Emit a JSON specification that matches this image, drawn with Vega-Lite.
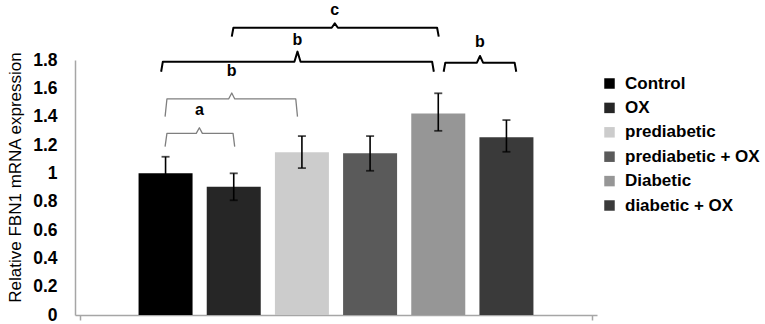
{
  "$schema": "https://vega.github.io/schema/vega-lite/v6.json",
  "autosize": {"type": "none"},
  "width": 522,
  "height": 255,
  "padding": {"left": 75, "top": 60, "right": 168, "bottom": 9},
  "background": "white",
  "config": {"view": {"stroke": null}, "font": "Liberation Sans"},
  "datasets": {
    "bars": [
      {"group": "Control", "pos": 1, "mean": 1.0, "lo": 0.885, "hi": 1.117},
      {"group": "OX", "pos": 2, "mean": 0.905, "lo": 0.81, "hi": 1.0},
      {"group": "prediabetic", "pos": 3, "mean": 1.148, "lo": 1.037, "hi": 1.263},
      {"group": "prediabetic + OX", "pos": 4, "mean": 1.141, "lo": 1.018, "hi": 1.263},
      {"group": "Diabetic", "pos": 5, "mean": 1.423, "lo": 1.30, "hi": 1.565},
      {"group": "diabetic + OX", "pos": 6, "mean": 1.254, "lo": 1.152, "hi": 1.376}
    ],
    "brackets": [
      {"id": "a", "tone": "gray", "ord": 1, "x": 0.993, "y": 1.188},
      {"id": "a", "tone": "gray", "ord": 2, "x": 1.02, "y": 1.282},
      {"id": "a", "tone": "gray", "ord": 3, "x": 1.45, "y": 1.282},
      {"id": "a", "tone": "gray", "ord": 4, "x": 1.496, "y": 1.322},
      {"id": "a", "tone": "gray", "ord": 5, "x": 1.54, "y": 1.282},
      {"id": "a", "tone": "gray", "ord": 6, "x": 1.99, "y": 1.282},
      {"id": "a", "tone": "gray", "ord": 7, "x": 2.014, "y": 1.188},
      {"id": "b1", "tone": "gray", "ord": 1, "x": 0.993, "y": 1.40},
      {"id": "b1", "tone": "gray", "ord": 2, "x": 1.02, "y": 1.525},
      {"id": "b1", "tone": "gray", "ord": 3, "x": 1.925, "y": 1.525},
      {"id": "b1", "tone": "gray", "ord": 4, "x": 1.971, "y": 1.567},
      {"id": "b1", "tone": "gray", "ord": 5, "x": 2.015, "y": 1.525},
      {"id": "b1", "tone": "gray", "ord": 6, "x": 2.91, "y": 1.525},
      {"id": "b1", "tone": "gray", "ord": 7, "x": 2.935, "y": 1.40},
      {"id": "b2", "tone": "black", "ord": 1, "x": 0.935, "y": 1.717},
      {"id": "b2", "tone": "black", "ord": 2, "x": 0.96, "y": 1.788},
      {"id": "b2", "tone": "black", "ord": 3, "x": 2.89, "y": 1.788},
      {"id": "b2", "tone": "black", "ord": 4, "x": 2.935, "y": 1.859},
      {"id": "b2", "tone": "black", "ord": 5, "x": 2.98, "y": 1.788},
      {"id": "b2", "tone": "black", "ord": 6, "x": 4.91, "y": 1.788},
      {"id": "b2", "tone": "black", "ord": 7, "x": 4.935, "y": 1.717},
      {"id": "c", "tone": "black", "ord": 1, "x": 1.971, "y": 1.965},
      {"id": "c", "tone": "black", "ord": 2, "x": 1.995, "y": 2.028},
      {"id": "c", "tone": "black", "ord": 3, "x": 3.437, "y": 2.028},
      {"id": "c", "tone": "black", "ord": 4, "x": 3.482, "y": 2.059},
      {"id": "c", "tone": "black", "ord": 5, "x": 3.527, "y": 2.028},
      {"id": "c", "tone": "black", "ord": 6, "x": 4.983, "y": 2.028},
      {"id": "c", "tone": "black", "ord": 7, "x": 5.007, "y": 1.965},
      {"id": "b3", "tone": "black", "ord": 1, "x": 5.079, "y": 1.717},
      {"id": "b3", "tone": "black", "ord": 2, "x": 5.103, "y": 1.781},
      {"id": "b3", "tone": "black", "ord": 3, "x": 5.567, "y": 1.781},
      {"id": "b3", "tone": "black", "ord": 4, "x": 5.612, "y": 1.828},
      {"id": "b3", "tone": "black", "ord": 5, "x": 5.657, "y": 1.781},
      {"id": "b3", "tone": "black", "ord": 6, "x": 6.12, "y": 1.781},
      {"id": "b3", "tone": "black", "ord": 7, "x": 6.144, "y": 1.717}
    ],
    "letters": [
      {"label": "a", "x": 1.496, "y": 1.411},
      {"label": "b", "x": 1.971, "y": 1.684},
      {"label": "b", "x": 2.935, "y": 1.906},
      {"label": "c", "x": 3.482, "y": 2.12},
      {"label": "b", "x": 5.612, "y": 1.889}
    ]
  },
  "layer": [
    {
      "data": {"name": "bars"},
      "mark": {"type": "bar", "orient": "vertical", "size": 54},
      "encoding": {
        "x": {
          "field": "pos", "type": "quantitative",
          "scale": {"domain": [-0.255, 7.255], "nice": false, "zero": false},
          "axis": {"title": null, "labels": false, "grid": false, "values": [-0.255, 7.255], "ticks": true, "tickSize": 5, "tickColor": "#a6a6a6", "domainColor": "#a6a6a6", "domainWidth": 1.5, "tickWidth": 1.5}
        },
        "y": {
          "field": "mean", "type": "quantitative",
          "scale": {"domain": [0, 1.8], "nice": false},
          "axis": {
            "title": "Relative FBN1 mRNA expression",
            "titleFont": "Liberation Sans", "titleFontSize": 17, "titleFontWeight": "normal", "titleColor": "black",
            "titleX": -60, "titleY": 117, "titleAngle": -90, "titleAlign": "center", "titleBaseline": "middle",
            "tickCount": 9, "format": ".1~f",
            "labelFont": "Liberation Sans", "labelFontSize": 17.5, "labelFontWeight": "bold", "labelColor": "black",
            "labelOverlap": false,
            "labelPadding": 18, "ticks": false, "grid": false,
            "domainColor": "#a6a6a6", "domainWidth": 1.5
          }
        },
        "color": {
          "field": "group", "type": "nominal",
          "scale": {
            "domain": ["Control", "OX", "prediabetic", "prediabetic + OX", "Diabetic", "diabetic + OX"],
            "range": ["#000000", "#262626", "#cccccc", "#5a5a5a", "#969696", "#3a3a3a"]
          },
          "legend": {
            "title": null, "orient": "none", "legendX": 526, "legendY": 15, "padding": 0,
            "symbolType": "square", "symbolSize": 110, "symbolStrokeWidth": 0,
            "labelFont": "Liberation Sans", "labelFontSize": 17, "labelFontWeight": "bold", "labelColor": "black",
            "rowPadding": 6.4, "labelOffset": 7, "labelLimit": 300
          }
        }
      }
    },
    {
      "data": {"name": "bars"},
      "mark": {"type": "rule", "color": "black", "strokeWidth": 1.6},
      "encoding": {
        "x": {"field": "pos", "type": "quantitative"},
        "y": {"field": "lo", "type": "quantitative"},
        "y2": {"field": "hi"}
      }
    },
    {
      "data": {"name": "bars"},
      "mark": {"type": "tick", "orient": "horizontal", "color": "black", "size": 8, "thickness": 1.8},
      "encoding": {
        "x": {"field": "pos", "type": "quantitative"},
        "y": {"field": "hi", "type": "quantitative"}
      }
    },
    {
      "data": {"name": "bars"},
      "mark": {"type": "tick", "orient": "horizontal", "color": "black", "size": 8, "thickness": 1.8},
      "encoding": {
        "x": {"field": "pos", "type": "quantitative"},
        "y": {"field": "lo", "type": "quantitative"}
      }
    },
    {
      "data": {"name": "brackets"},
      "mark": {"type": "line", "clip": false, "strokeJoin": "round"},
      "encoding": {
        "x": {"field": "x", "type": "quantitative"},
        "y": {"field": "y", "type": "quantitative"},
        "detail": {"field": "id"},
        "order": {"field": "ord"},
        "stroke": {"field": "tone", "type": "nominal", "scale": {"domain": ["gray", "black"], "range": ["#7f7f7f", "#000000"]}, "legend": null},
        "strokeWidth": {"field": "tone", "type": "nominal", "scale": {"domain": ["gray", "black"], "range": [1.3, 2]}, "legend": null}
      }
    },
    {
      "data": {"name": "letters"},
      "mark": {"type": "text", "font": "Liberation Sans", "fontSize": 16, "fontWeight": "bold", "color": "black", "baseline": "alphabetic", "align": "center", "clip": false},
      "encoding": {
        "x": {"field": "x", "type": "quantitative"},
        "y": {"field": "y", "type": "quantitative"},
        "text": {"field": "label"}
      }
    }
  ],
  "resolve": {"scale": {"color": "independent"}}
}
